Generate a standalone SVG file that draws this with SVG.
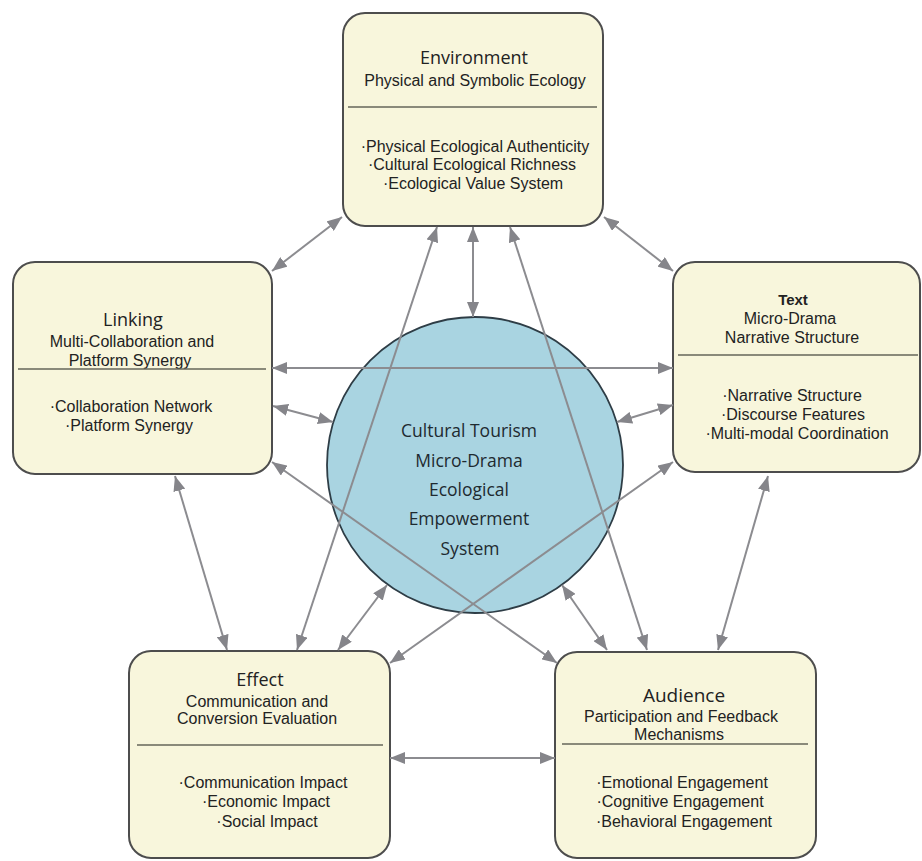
<svg xmlns="http://www.w3.org/2000/svg" width="922" height="861" viewBox="0 0 922 861">
<style>
.box{fill:#f8f6dc;stroke:#4d4d4d;stroke-width:2}
.sep{stroke:#66665a;stroke-width:1.6}
.title{font-family:"Open Sans","Noto Sans",sans-serif;font-size:18px;fill:#222;text-anchor:middle}
.sub{font-family:"Liberation Sans",Arial,sans-serif;font-size:16px;fill:#222;text-anchor:middle}
.ctext{font-family:"Open Sans","Noto Sans",sans-serif;font-size:17.5px;fill:#1e2a30;text-anchor:middle}
.conn{stroke:#8c8c90;stroke-width:2;fill:none;marker-start:url(#ah);marker-end:url(#ah)}
</style>
<defs>
<marker id="ah" markerUnits="userSpaceOnUse" markerWidth="16" markerHeight="12" refX="15" refY="6" orient="auto-start-reverse">
<path d="M0,0 L15,6 L0,12 z" fill="#85858a"/>
</marker>
</defs>
<rect width="922" height="861" fill="#ffffff"/>

<g id="environment">
<rect class="box" x="343" y="13" width="260" height="213" rx="22"/>
<text class="title" x="474" y="64">Environment</text>
<text class="sub" x="475" y="86">Physical and Symbolic Ecology</text>
<line class="sep" x1="348" y1="107" x2="597" y2="107"/>
<text class="sub" x="475" y="152">·Physical Ecological Authenticity</text>
<text class="sub" x="472" y="170">·Cultural Ecological Richness</text>
<text class="sub" x="473" y="189">·Ecological Value System</text>
</g>

<g id="linking">
<rect class="box" x="13" y="262" width="259" height="212" rx="22"/>
<text class="title" x="133" y="326">Linking</text>
<text class="sub" x="132" y="347">Multi-Collaboration and</text>
<text class="sub" x="130" y="366">Platform Synergy</text>
<line class="sep" x1="18" y1="369" x2="266" y2="369"/>
<text class="sub" x="131" y="412">·Collaboration Network</text>
<text class="sub" x="129" y="431">·Platform Synergy</text>
</g>

<g id="text">
<rect class="box" x="673" y="262" width="247" height="210" rx="22"/>
<text class="sub" x="793" y="305" style="font-weight:bold;font-size:15px">Text</text>
<text class="sub" x="790" y="324">Micro-Drama</text>
<text class="sub" x="792" y="343">Narrative Structure</text>
<line class="sep" x1="678" y1="355" x2="918" y2="355"/>
<text class="sub" x="792" y="401">·Narrative Structure</text>
<text class="sub" x="793" y="420">·Discourse Features</text>
<text class="sub" x="797" y="439">·Multi-modal Coordination</text>
</g>

<g id="effect">
<rect class="box" x="129" y="651" width="261" height="207" rx="22"/>
<text class="title" x="260" y="686">Effect</text>
<text class="sub" x="257" y="707">Communication and</text>
<text class="sub" x="257" y="724">Conversion Evaluation</text>
<line class="sep" x1="137" y1="745" x2="383" y2="745"/>
<text class="sub" x="263" y="788">·Communication Impact</text>
<text class="sub" x="266" y="807">·Economic Impact</text>
<text class="sub" x="267" y="827">·Social Impact</text>
</g>

<g id="audience">
<rect class="box" x="555" y="652" width="261" height="206" rx="22"/>
<text class="title" x="684" y="702" style="font-size:19px">Audience</text>
<text class="sub" x="681" y="722">Participation and Feedback</text>
<text class="sub" x="679" y="740">Mechanisms</text>
<line class="sep" x1="562" y1="744" x2="808" y2="744"/>
<text class="sub" x="682" y="788">·Emotional Engagement</text>
<text class="sub" x="680" y="807">·Cognitive Engagement</text>
<text class="sub" x="684" y="827">·Behavioral Engagement</text>
</g>

<g id="core">
<circle cx="475" cy="465" r="148" fill="#a9d4e1" stroke="#2e3d46" stroke-width="1.8"/>
<text class="ctext" x="469" y="437">Cultural Tourism</text>
<text class="ctext" x="469" y="467">Micro-Drama</text>
<text class="ctext" x="469" y="496">Ecological</text>
<text class="ctext" x="469" y="525">Empowerment</text>
<text class="ctext" x="470" y="555">System</text>
</g>

<g id="connectors">
<line class="conn" x1="342" y1="217" x2="272" y2="271"/>
<line class="conn" x1="604" y1="217" x2="673" y2="271"/>
<line class="conn" x1="473" y1="227" x2="473" y2="317"/>
<line class="conn" x1="437" y1="227" x2="297" y2="650"/>
<line class="conn" x1="510" y1="227" x2="647" y2="650"/>
<line class="conn" x1="272" y1="368" x2="673" y2="368"/>
<line class="conn" x1="273" y1="406" x2="333" y2="422"/>
<line class="conn" x1="673" y1="405" x2="617" y2="422"/>
<line class="conn" x1="175" y1="476" x2="227" y2="650"/>
<line class="conn" x1="272" y1="462" x2="557" y2="663"/>
<line class="conn" x1="673" y1="462" x2="390" y2="663"/>
<line class="conn" x1="768" y1="476" x2="718" y2="650"/>
<line class="conn" x1="387" y1="585" x2="338" y2="650"/>
<line class="conn" x1="562" y1="585" x2="607" y2="650"/>
<line class="conn" x1="390" y1="758" x2="555" y2="758"/>
</g>
</svg>
